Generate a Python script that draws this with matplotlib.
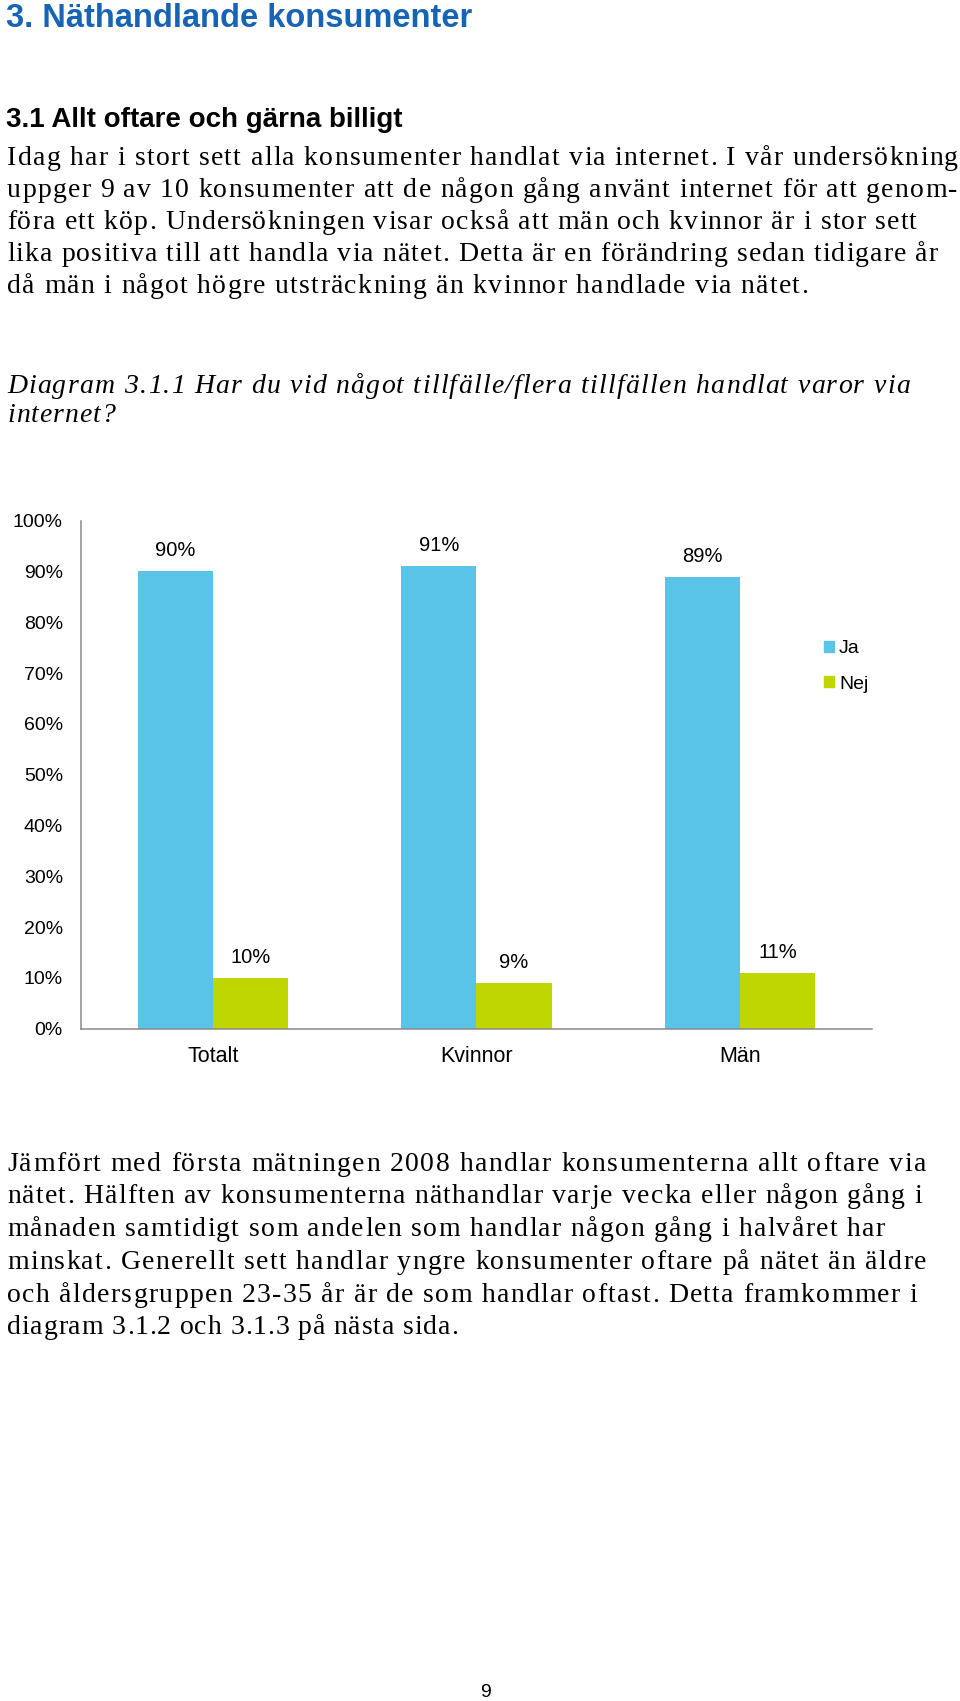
import matplotlib
matplotlib.use("Agg")
import matplotlib.pyplot as plt
import matplotlib.transforms as mtransforms
from matplotlib import font_manager as fm
from matplotlib.ft2font import FT2Font
from matplotlib.patches import Patch

# ---------------- data / text ----------------
title = "3. Näthandlande konsumenter"
subtitle = "3.1 Allt oftare och gärna billigt"
para1 = [
    "Idag har i stort sett alla konsumenter handlat via internet. I vår undersökning",
    "uppger 9 av 10 konsumenter att de någon gång använt internet för att genom-",
    "föra ett köp. Undersökningen visar också att män och kvinnor är i stor sett",
    "lika positiva till att handla via nätet. Detta är en förändring sedan tidigare år",
    "då män i något högre utsträckning än kvinnor handlade via nätet.",
]
caption = [
    "Diagram 3.1.1 Har du vid något tillfälle/flera tillfällen handlat varor via",
    "internet?",
]
para2 = [
    "Jämfört med första mätningen 2008 handlar konsumenterna allt oftare via",
    "nätet. Hälften av konsumenterna näthandlar varje vecka eller någon gång i",
    "månaden samtidigt som andelen som handlar någon gång i halvåret har",
    "minskat. Generellt sett handlar yngre konsumenter oftare på nätet än äldre",
    "och åldersgruppen 23-35 år är de som handlar oftast. Detta framkommer i",
    "diagram 3.1.2 och 3.1.3 på nästa sida.",
]
page_number = "9"

categories = ["Totalt", "Kvinnor", "Män"]
ja = [90, 91, 89]
nej = [10, 9, 11]
series_labels = ["Ja", "Nej"]
yticks = list(range(0, 101, 10))
ytick_labels = [f"{v}%" for v in yticks]

# ---------------- layout ----------------
W, H, DPI = 960, 1701, 100
fig = plt.figure(figsize=(W / DPI, H / DPI), dpi=DPI)
fig.patch.set_facecolor("white")
px = mtransforms.Affine2D().scale(1.0 / W, -1.0 / H).translate(0, 1) + fig.transFigure

SANS = "Liberation Sans"
SERIF = "Liberation Serif"
JA_COLOR = "#59C4E8"
NEJ_COLOR = "#C0D600"
TITLE_COLOR = "#1764B5"
AXIS_COLOR = "#8a8a8a"


def tracked_line(x0, x1, y, s, size, style="normal"):
    prop = fm.FontProperties(family=SERIF, style=style)
    path = fm.findfont(prop)
    font = FT2Font(path)
    font.set_size(size, DPI)
    advs = [font.load_char(ord(ch)).linearHoriAdvance / 65536.0 for ch in s]
    natural = sum(advs)
    track = (x1 - x0 - natural) / max(len(s) - 1, 1) if x1 is not None else 0.0
    x = x0
    for ch, a in zip(s, advs):
        if ch != " ":
            fig.text(x, y, ch, transform=px, fontsize=size, family=SERIF,
                     style=style, ha="left", va="baseline", color="black")
        x += a + track


# headings
fig.text(6, 26.7, title, transform=px, fontsize=23.5, weight="bold",
         family=SANS, color=TITLE_COLOR, ha="left", va="baseline")
fig.text(6, 127.3, subtitle, transform=px, fontsize=20, weight="bold",
         family=SANS, color="black", ha="left", va="baseline")

BODY = 20
p1_base = [165, 197, 229, 261, 293]
p1_right = [958, 957, 917, 938, 808]
for s, yb, xr in zip(para1, p1_base, p1_right):
    tracked_line(7, xr, yb, s, BODY)

cap_base = [393, 422]
cap_right = [910, 115]
for s, yb, xr in zip(caption, cap_base, cap_right):
    tracked_line(7, xr, yb, s, BODY, style="italic")

p2_base = [1170.5, 1203, 1236, 1268.5, 1301.5, 1333.5]
p2_right = [926, 922, 885, 926, 917, 458]
for s, yb, xr in zip(para2, p2_base, p2_right):
    tracked_line(7, xr, yb, s, BODY)

fig.text(485.5, 1697, page_number, transform=px, fontsize=14, family=SANS,
         ha="center", va="baseline", color="black")

# ---------------- chart ----------------
ax_l, ax_r, ax_t, ax_b = 81, 872, 520.7, 1028.6
ax = fig.add_axes([ax_l / W, 1 - ax_b / H, (ax_r - ax_l) / W, (ax_b - ax_t) / H])
x = list(range(len(categories)))
bw = 0.285
b1 = ax.bar([i - bw / 2 for i in x], ja, width=bw, color=JA_COLOR, label=series_labels[0])
b2 = ax.bar([i + bw / 2 for i in x], nej, width=bw, color=NEJ_COLOR, label=series_labels[1])

for bars, vals in ((b1, ja), (b2, nej)):
    for rect, v in zip(bars, vals):
        ax.annotate(f"{v}%", (rect.get_x() + rect.get_width() / 2, v),
                    xytext=(0, 10.8), textcoords="offset points",
                    ha="center", va="baseline", fontsize=14.5, family=SANS)

ax.set_xlim(-0.5, 2.5)
ax.set_ylim(0, 100)
ax.set_yticks(yticks)
ax.set_yticklabels(ytick_labels, family=SANS, fontsize=14)
ax.set_xticks(x)
ax.set_xticklabels(categories, family=SANS, fontsize=15.5)
ax.tick_params(axis="y", length=0, pad=13)
ax.tick_params(axis="x", length=0, pad=12.5)
for side in ("top", "right"):
    ax.spines[side].set_visible(False)
for side in ("left", "bottom"):
    ax.spines[side].set_color(AXIS_COLOR)
    ax.spines[side].set_linewidth(1.1)
ax.set_facecolor("none")

leg = ax.legend(handles=[Patch(color=JA_COLOR), Patch(color=NEJ_COLOR)],
                labels=series_labels, loc="upper left",
                bbox_to_anchor=(824 / W, 1 - 640 / H), bbox_transform=fig.transFigure,
                frameon=False, prop={"family": SANS, "size": 14},
                handlelength=0.49, handleheight=0.49, handletextpad=0.28,
                labelspacing=0.96, borderpad=0, borderaxespad=0)

fig.savefig("out.png", dpi=DPI, facecolor="white")
